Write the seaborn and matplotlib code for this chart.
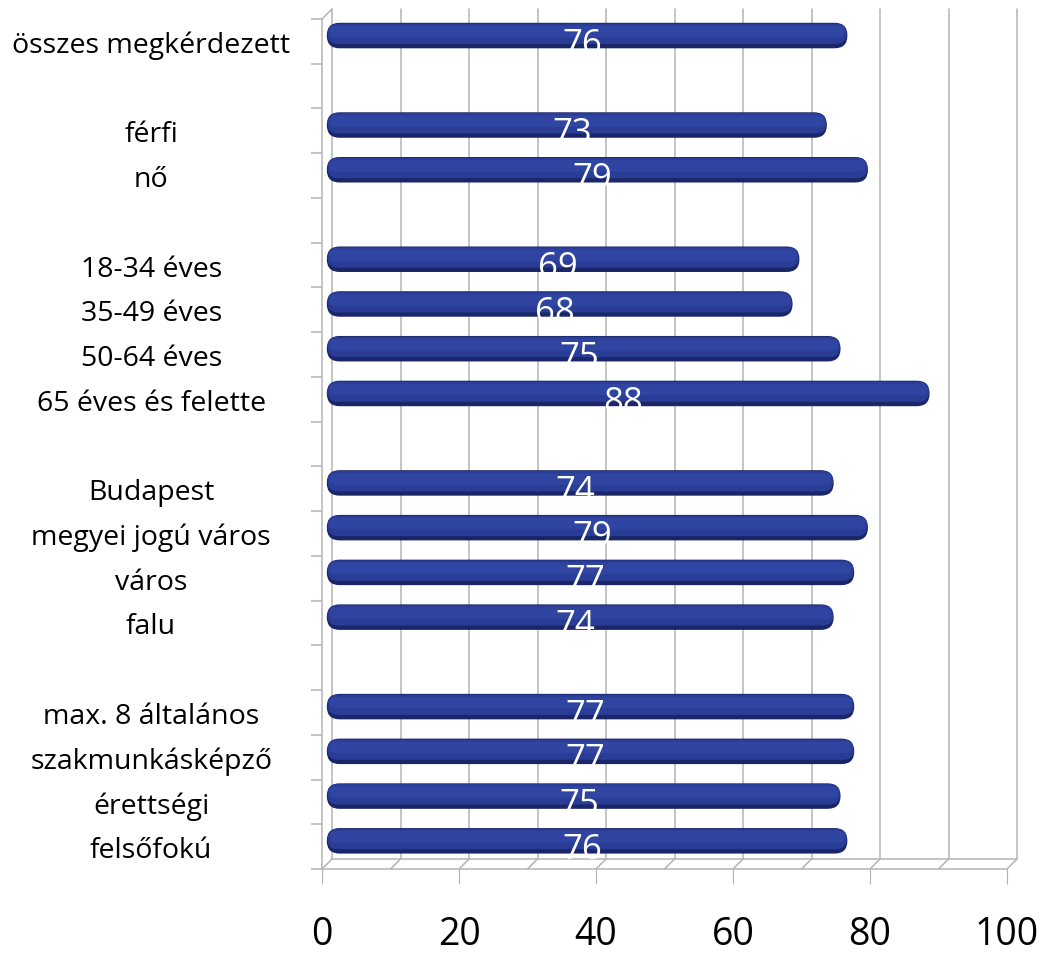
import numpy as np
import pandas as pd
import matplotlib
matplotlib.use("Agg")
import matplotlib.pyplot as plt
import seaborn as sns
from matplotlib.patches import FancyBboxPatch
from matplotlib.transforms import offset_copy

# categories (blank slots separate the groups)
labels = ["összes megkérdezett", " ", "férfi", "nő", "  ",
          "18-34 éves", "35-49 éves", "50-64 éves", "65 éves és felette", "   ",
          "Budapest", "megyei jogú város", "város", "falu", "    ",
          "max. 8 általános", "szakmunkásképző", "érettségi", "felsőfokú"]
values = [76, np.nan, 73, 79, np.nan,
          69, 68, 75, 88, np.nan,
          74, 79, 77, 74, np.nan,
          77, 77, 75, 76]
xticks = [0, 20, 40, 60, 80, 100]

df = pd.DataFrame({"label": labels, "value": values}).dropna()

sns.set_style("white")
plt.rcParams["font.family"] = ["Open Sans", "DejaVu Sans"]
plt.rcParams["text.color"] = "black"
plt.rcParams["xtick.color"] = "black"
plt.rcParams["ytick.color"] = "black"

W, H = 1045, 954
fig = plt.figure(figsize=(W / 100, H / 100), dpi=100)
ax = fig.add_axes([322 / W, 1 - 870 / H, (1007 - 322) / W, (870 - 20) / H])

sns.barplot(data=df, x="value", y="label", order=labels, orient="h",
            color="#22358a", width=0.57, ax=ax)

ax.set_xlim(0, 100)
ax.set_ylim(len(labels) - 0.5, -0.5)

# turn the flat bars into rounded "cylinders" (sitting a bit back, 3D look)
px_x = (1007 - 322) / 100.0
px_y = (870 - 20) / len(labels)
aspect = px_x / px_y
depth = 0.13


def rounded(x, y, w, h, fc, z, alpha=1.0):
    return FancyBboxPatch((x, y), w, h,
                          boxstyle=f"round,pad=0,rounding_size={h / aspect / 2}",
                          mutation_aspect=aspect, fc=fc, ec="none",
                          alpha=alpha, zorder=z)


for p in list(ax.patches):
    x0, y0, w, h = p.get_x(), p.get_y(), p.get_width(), p.get_height()
    p.remove()
    x0 += 0.7
    y0 -= depth
    ax.add_patch(rounded(x0, y0, w, h, "#1a2668", 3))
    ax.add_patch(rounded(x0 + 0.1, y0 + 0.03 * h, w - 0.2, 0.8 * h, "#2a3d96", 3.1))
    ax.add_patch(rounded(x0 + 0.4, y0 + 0.12 * h, w - 0.8, 0.45 * h, "#3147a3", 3.2, 0.9))

# value labels in the middle of each bar
for i, v in enumerate(values):
    if np.isnan(v):
        continue
    ax.text(v / 2, i + 0.05, f"{v:.0f}", color="white", fontsize=25,
            ha="center", va="center", zorder=4)

# back wall grid
grid_c = "#b4b4b4"
back = offset_copy(ax.transData, fig=fig, x=10, y=10, units="dots")
for g in range(0, 101, 10):
    ax.plot([g, g], [len(labels) - 0.5, -0.5], color=grid_c, lw=1.1,
            transform=back, clip_on=False, zorder=0)
    ax.annotate("", xy=(g, len(labels) - 0.5), xytext=(10, 10),
                textcoords="offset pixels",
                arrowprops=dict(arrowstyle="-", color=grid_c, lw=1.1,
                                shrinkA=0, shrinkB=0), zorder=0)
ax.plot([0, 100], [len(labels) - 0.5, len(labels) - 0.5], color=grid_c,
        lw=1.1, transform=back, clip_on=False, zorder=0)
ax.annotate("", xy=(0, -0.5), xytext=(10, 10), textcoords="offset pixels",
            arrowprops=dict(arrowstyle="-", color=grid_c, lw=1.1,
                            shrinkA=0, shrinkB=0), zorder=0)

for s in ["top", "right"]:
    ax.spines[s].set_visible(False)
for s in ["left", "bottom"]:
    ax.spines[s].set_color(grid_c)
    ax.spines[s].set_linewidth(1.1)

ax.set_xticks(xticks)
ax.set_xticklabels([str(t) for t in xticks], fontsize=27)
ax.tick_params(axis="x", bottom=True, length=11, color=grid_c, pad=22)

ax.set_yticks(range(len(labels)))
ax.set_yticklabels([l.strip() for l in labels], fontsize=20.5)
ax.tick_params(axis="y", length=0, pad=123)
for t in ax.get_yticklabels():
    t.set_ha("center")
ax.set_yticks(np.arange(-0.5, len(labels)), minor=True)
ax.tick_params(axis="y", which="minor", left=True, length=8, width=1.1,
               color=grid_c)

ax.set_xlabel("")
ax.set_ylabel("")

fig.savefig("out.png", dpi=100)
